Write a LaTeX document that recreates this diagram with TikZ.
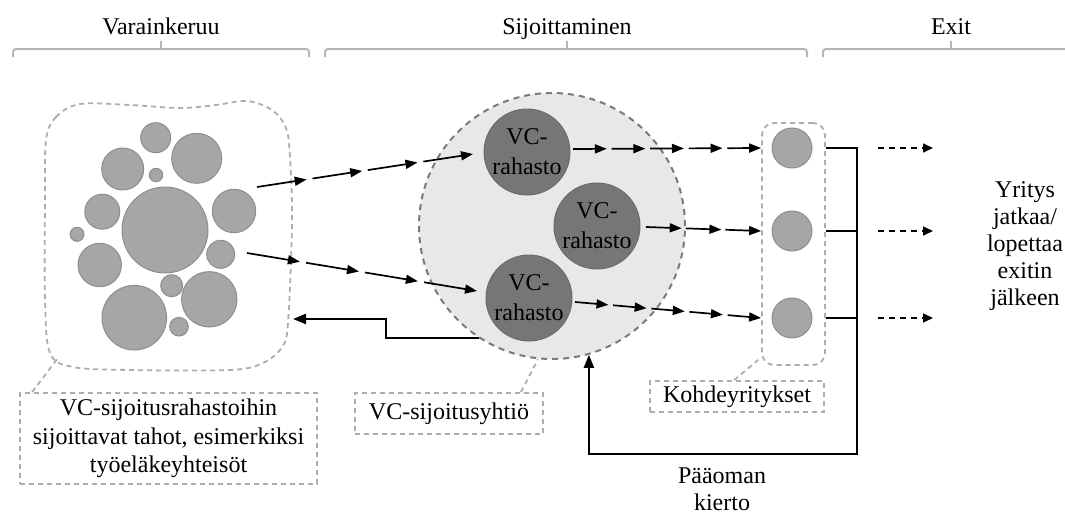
\documentclass[tikz,border=0pt]{standalone}
\usepackage{fontspec}
\setmainfont{Liberation Serif}
\usepackage{tikz}
\usetikzlibrary{calc}
\usetikzlibrary{arrows.meta}
\usetikzlibrary{positioning}
\usepackage{color}

\definecolor{poolgray}{HTML}{A6A6A6}
\definecolor{poolline}{HTML}{8E8E8E}
\definecolor{fundgray}{HTML}{767676}
\definecolor{fundline}{HTML}{6C6C6C}
\definecolor{cogray}{HTML}{E8E8E8}
\definecolor{coline}{HTML}{7A7A7A}
\definecolor{notegray}{HTML}{ADADAD}
\definecolor{bracegray}{HTML}{B5B5B5}

\tikzset{
  txt/.style={font=\fontsize{12}{15}\selectfont},
  blob/.style={fill=poolgray, draw=poolline, line width=0.5pt},
  fund/.style={circle, fill=fundgray, draw=fundline, line width=0.5pt, minimum size=43pt, inner sep=0pt, align=center, txt},
  firm/.style={circle, fill=poolgray, draw=poolline, line width=0.5pt, minimum size=20pt, inner sep=0pt},
  note/.style={draw=notegray, line width=0.9pt, dash pattern=on 2.5pt off 2pt, inner sep=0pt, align=center, txt},
  callout/.style={draw=notegray, line width=0.9pt, dash pattern=on 2.5pt off 2pt},
  brace/.style={draw=bracegray, line width=1pt, rounded corners=1.5pt},
  flow/.style={line width=0.85pt, -{Triangle[length=6pt,width=4.5pt]}},
  backline/.style={line width=1.1pt},
  backflow/.style={line width=1.1pt, -{Triangle[length=6.5pt,width=5pt]}},
  exitflow/.style={line width=0.8pt, dash pattern=on 3pt off 2.5pt, -{Triangle[length=5pt,width=4.5pt]}}
}

\begin{document}
\begin{tikzpicture}[x=0.5pt, y=-0.5pt]
            % Frame to fix the size
            \useasboundingbox (0,0) rectangle (1065,514);

            % Phases on top
            \node[txt, anchor=base] (hdrA) at (161,34) {Varainkeruu};
            \node[txt, anchor=base] (hdrB) at (567,34) {Sijoittaminen};
            \node[txt, anchor=base] (hdrC) at (951,34) {Exit};
            \draw[brace] (13,57) -- (13,49) -- (309,49) -- (309,57);
            \draw[brace] (161,49) -- (161,41);
            \draw[brace] (325,57) -- (325,49) -- (807,49) -- (807,57);
            \draw[brace] (567,49) -- (567,41);
            \draw[brace] (823,57) -- (823,49) -- (1066,49);
            \draw[brace] (951,49) -- (951,41);

            % Investors
            \draw[callout] plot[smooth cycle, tension=0.55] coordinates {
                (46,140) (56,117) (80,104) (130,105) (180,108) (216,105) (247,101)
                (272,110) (286,128) (290,157) (292,223) (288,323) (282,347) (263,363)
                (230,370) (130,370) (73,367) (50,353) (45,300) (45,200)};
            \foreach \x/\y/\r in {165/230/43, 155.7/137.7/15, 196.7/158.3/25, 122.7/169/21,
                                  156/175/6.7, 102.3/211.7/17.5, 234/211/21.7, 77/234.3/7,
                                  220.7/254.3/14, 99.7/265/21.7, 171.7/285.7/11, 209.3/299.3/27.7,
                                  134.3/317.7/32.3, 179/326.7/9.3}
                \draw[blob] (\x,\y) circle (\r);
            \coordinate (poolcorner) at (58,358);
            \coordinate (poolin) at (293,319);
            \coordinate (poolstep) at (386,319);

            % VC company and its funds
            \node[circle, fill=cogray, draw=coline, line width=1pt, dash pattern=on 3pt off 2.5pt,
                  minimum size=133pt, inner sep=0pt] (fundco) at (552,226) {};
            \node[fund] (vcA) at (527,152) {VC-\\rahasto};
            \node[fund] (vcB) at (597,226) {VC-\\rahasto};
            \node[fund] (vcC) at (529,298) {VC-\\rahasto};

            % Target companies
            \node[callout, rounded corners=6pt, minimum width=31.5pt, minimum height=121pt,
                  inner sep=0pt] (firms) at (793.5,244) {};
            \node[firm] (cA) at (792,148) {};
            \node[firm] (cB) at (792,231) {};
            \node[firm] (cC) at (792,318) {};

            % Notes
            \node[note, minimum width=148.5pt, minimum height=45.5pt,
                  font=\fontsize{12}{14.3}\selectfont] (poolnote) at (168.5,438.5)
                {VC-sijoitusrahastoihin\\sijoittavat tahot, esimerkiksi\\työeläkeyhteisöt};
            \node[note, minimum width=94pt, minimum height=20.5pt] (conote) at (449,413.5) {VC-sijoitusyhtiö};
            \node[note, minimum width=87pt, minimum height=15.5pt] (firmnote) at (737,396.5) {Kohdeyritykset};
            \draw[callout] ($(poolnote.north west)+(13,0)$) -- (poolcorner);
            \draw[callout] ($(conote.north east)+(-23,0)$) -- (fundco.-96);
            \draw[callout] ($(firmnote.north west)+(85,0)$) -- ($(firms.south west)+(-3,-6)$);

            % Money into the funds
            \coordinate (inA0) at (257,187);
            \coordinate (inA1) at (473,154);
            \coordinate (inB0) at (247,253);
            \coordinate (inB1) at (477,291);
            \foreach \s/\e in {0/0.23, 0.257/0.487, 0.513/0.743, 0.77/1} {
                \draw[flow] ($(inA0)!\s!(inA1)$) -- ($(inA0)!\e!(inA1)$);
                \draw[flow] ($(inB0)!\s!(inB1)$) -- ($(inB0)!\e!(inB1)$);
            }

            % Funds into the companies
            \coordinate (outA0) at (573,149);
            \coordinate (outB0) at (646,227);
            \coordinate (outC0) at (575,302);
            \foreach \s/\e in {0/0.18, 0.205/0.385, 0.41/0.59, 0.615/0.795, 0.82/1} {
                \draw[flow] ($(outA0)!\s!(firms.west |- cA)$) -- ($(outA0)!\e!(firms.west |- cA)$);
                \draw[flow] ($(outC0)!\s!(firms.west |- cC)$) -- ($(outC0)!\e!(firms.west |- cC)$);
            }
            \foreach \s/\e in {0/0.31, 0.345/0.655, 0.69/1}
                \draw[flow] ($(outB0)!\s!(firms.west |- cB)$) -- ($(outB0)!\e!(firms.west |- cB)$);

            % Capital returns
            \coordinate (railbot) at (857,454);
            \draw[backflow] (firms.east |- cA) -| (railbot) -| (fundco.-74);
            \draw[backline] (firms.east |- cB) -- (railbot |- cB);
            \draw[backline] (firms.east |- cC) -- (railbot |- cC);
            \draw[backflow] (fundco.237) -| (poolstep) -- (poolin);
            \node[txt, align=center, font=\fontsize{12}{13.5}\selectfont] (cycle) at (722,489) {Pääoman\\kierto};

            % Exit
            \coordinate (exitA) at (878,0);
            \coordinate (exitB) at (933,0);
            \foreach \c in {cA,cB,cC}
                \draw[exitflow] (exitA |- \c) -- (exitB |- \c);
            \node[txt, align=center, font=\fontsize{12}{13.5}\selectfont] (fate) at (1025,246)
                {Yritys\\jatkaa/\\lopettaa\\exitin\\jälkeen};
        \end{tikzpicture}
\end{document}
